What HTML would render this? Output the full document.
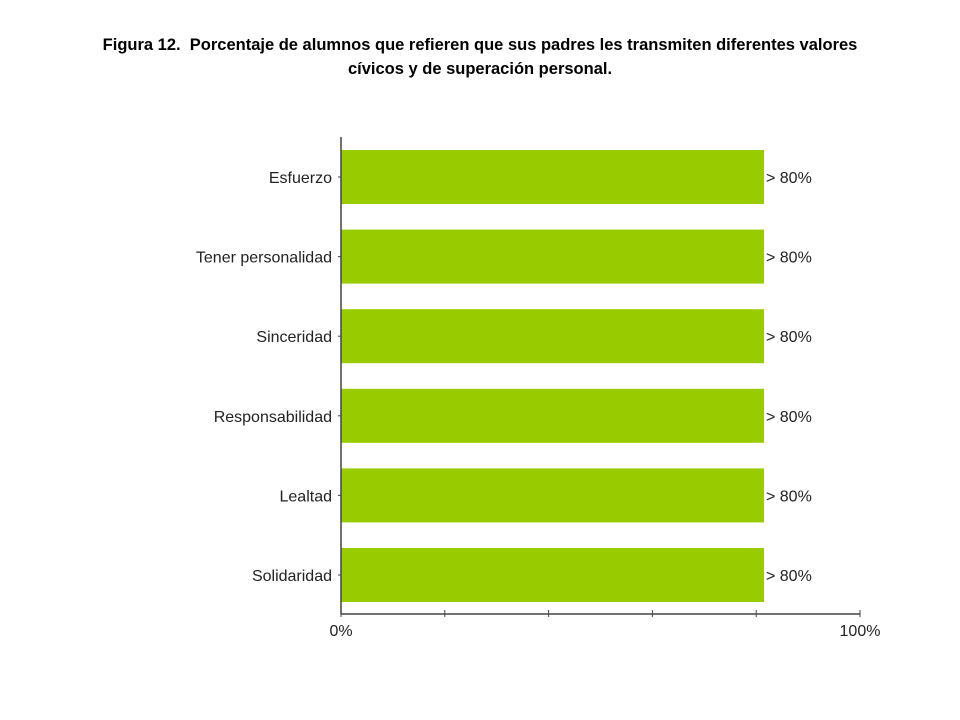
<!DOCTYPE html>
<html><head><meta charset="utf-8"><style>
body{margin:0;background:#fff;width:960px;height:720px;overflow:hidden;font-family:"Liberation Sans",sans-serif}
.t{position:absolute;left:0;width:960px;text-align:center;font-weight:bold;font-size:16.5px;line-height:24px;top:33px;color:#000}
</style></head><body>
<div class="t">Figura 12.&nbsp; Porcentaje de alumnos que refieren que sus padres les transmiten diferentes valores<br>cívicos y de superación personal.</div>
<svg id="c" width="960" height="720" style="position:absolute;left:0;top:0"></svg>
<script>
const categories=["Esfuerzo","Tener personalidad","Sinceridad","Responsabilidad","Lealtad","Solidaridad"];
const values=[81.5,81.5,81.5,81.5,81.5,81.5];
const valueLabels=["> 80%","> 80%","> 80%","> 80%","> 80%","> 80%"];
const ticks=[0,20,40,60,80,100];
const tickLabels=["0%","","","","","100%"];
const svg=document.getElementById('c');const NS="http://www.w3.org/2000/svg";
const x0=341,x1=860,yTop=137,yAx=614,band=79.6,first=150,bh=54;
const xs=v=>x0+(x1-x0)*v/100;
const ys=i=>first+i*band;
function mk(t,a){const e=document.createElementNS(NS,t);for(const k in a)e.setAttribute(k,a[k]);svg.appendChild(e);return e;}
categories.forEach((c,i)=>{
 const r=mk('rect',{x:x0,y:ys(i),width:xs(values[i])-x0,height:bh,fill:'#99cc00'});
 
 
 const cy=ys(i)+bh/2;
 const tk=mk('line',{x1:x0-3,x2:x0,y1:cy,y2:cy,stroke:'#444'});
 
 
 const l=mk('text',{x:x0-9,y:cy+6,'text-anchor':'end','font-size':16,fill:'#222','font-family':'Liberation Sans, sans-serif'});
 l.textContent=c;
 
 
 const v=mk('text',{x:xs(values[i])+2,y:cy+6,'font-size':16,fill:'#222','font-family':'Liberation Sans, sans-serif'});
 v.textContent=valueLabels[i];
 
 
});
const ya=mk('line',{x1:x0,x2:x0,y1:yTop,y2:yAx,stroke:'#444','stroke-width':1.5});


const xa=mk('line',{x1:x0,x2:x1,y1:yAx,y2:yAx,stroke:'#444','stroke-width':1.5});


ticks.forEach((t,i)=>{
 const tl=mk('line',{x1:xs(t),x2:xs(t),y1:yAx-4,y2:yAx+3,stroke:'#444'});
 
 
 if(tickLabels[i]){const tx=mk('text',{x:xs(t),y:yAx+22,'text-anchor':'middle','font-size':16,fill:'#222','font-family':'Liberation Sans, sans-serif'});
 tx.textContent=tickLabels[i];
 
 }
});
</script>
</body></html>
